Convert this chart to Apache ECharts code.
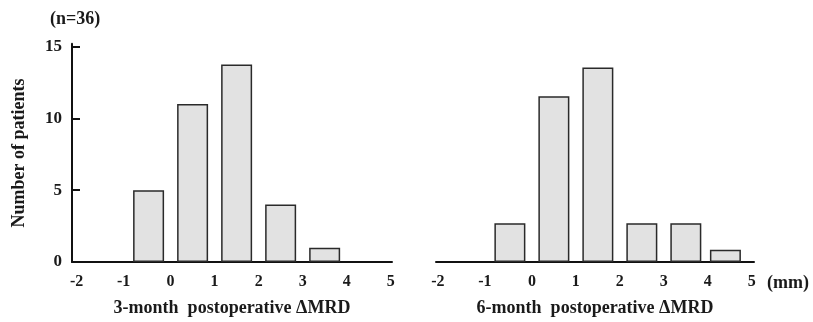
<!DOCTYPE html>
<html><head><meta charset="utf-8">
<script src="https://cdn.jsdelivr.net/npm/echarts@6/dist/echarts.min.js"></script>
<style>html,body{margin:0;padding:0;background:#fff}#c{width:813px;height:322px}</style>
</head><body><div id="c"></div>
<script>
// Bin centres (mm) and counts
const bins3 = [-0.5, 0.5, 1.5, 2.5, 3.5];
const counts3 = [5, 11, 13.75, 4, 1];
const bins6 = [-0.5, 0.5, 1.5, 2.5, 3.5, 4.4];
const counts6 = [2.7, 11.55, 13.55, 2.7, 2.7, 0.85];
const xTicks = [-2, -1, 0, 1, 2, 3, 4, 5];
const yTicks = [0, 5, 10, 15];
const xTitle3 = '3-month  postoperative ΔMRD';
const xTitle6 = '6-month  postoperative ΔMRD';
const yTitle = 'Number of patients';
const nNote = '(n=36)';
const unitNote = '(mm)';

const FONT = 'Liberation Serif';
const txt = {fontFamily: FONT, fontWeight: 'bold', color: '#1a1a1a', fontSize: 16};

function xAxis(idx, min, max, title) {
  return {
    type: 'value', gridIndex: idx, min: min, max: max,
    axisLine: {show: true, onZero: false, lineStyle: {color: '#111', width: 2}},
    axisTick: {show: false},
    splitLine: {show: false},
    axisLabel: Object.assign({}, txt, {
      customValues: xTicks, margin: 12,
      formatter: v => v === -2 ? '{a|' + v + '}' : (v === -1 ? '{b|' + v + '}' : String(v)),
      rich: {a: Object.assign({}, txt, {padding: [0, 12, 0, 0]}), b: Object.assign({}, txt, {padding: [0, 6, 0, 0]})}
    }),
    name: title, nameLocation: 'middle', nameGap: 37,
    nameTextStyle: Object.assign({}, txt, {fontSize: 18})
  };
}
function yAxis(idx, show) {
  return {
    type: 'value', gridIndex: idx, min: 0, max: 15.2,
    show: show,
    axisLine: {show: true, onZero: false, lineStyle: {color: '#111', width: 2}},
    axisTick: {show: true, inside: true, length: 8, customValues: yTicks.slice(1), lineStyle: {color: '#111', width: 2}},
    splitLine: {show: false},
    axisLabel: Object.assign({}, txt, {customValues: yTicks, margin: 10, fontSize: 17}),
    name: show ? yTitle : '', nameLocation: 'middle', nameGap: 44, nameRotate: 90,
    nameTextStyle: Object.assign({}, txt, {fontSize: 18})
  };
}
const barStyle = {color: '#e2e2e2', borderColor: '#2a2a2a', borderWidth: 1.5};

const chart = echarts.init(document.getElementById('c'), null, {renderer: 'canvas'});
chart.setOption({
  animation: false,
  backgroundColor: '#fff',
  grid: [
    {left: 72, top: 43.8, width: 320, height: 220.5},
    {left: 436, top: 43.8, width: 318, height: 220.5}
  ],
  xAxis: [xAxis(0, -2.24, 5.03, xTitle3), xAxis(1, -2.18, 5.05, xTitle6)],
  yAxis: [yAxis(0, true), yAxis(1, false)],
  series: [
    {type: 'bar', xAxisIndex: 0, yAxisIndex: 0, barWidth: 31, itemStyle: barStyle,
     data: bins3.map((b, i) => [b, counts3[i]])},
    {type: 'bar', xAxisIndex: 1, yAxisIndex: 1, barWidth: 31, itemStyle: barStyle,
     data: bins6.map((b, i) => [b, counts6[i]])}
  ],
  graphic: [
    {type: 'text', left: 50, top: 10, style: {text: nNote, fill: '#1a1a1a', font: 'bold 18px "Liberation Serif"'}},
    {type: 'text', left: 767, top: 274, style: {text: unitNote, fill: '#1a1a1a', font: 'bold 18px "Liberation Serif"'}}
  ]
});
</script></body></html>
